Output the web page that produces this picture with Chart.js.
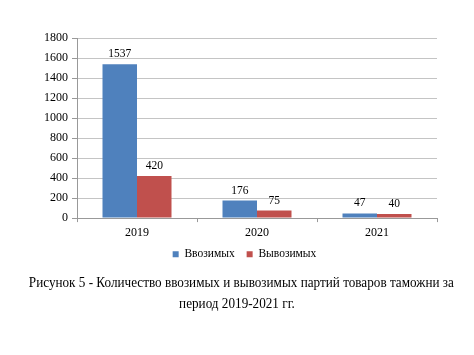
<!DOCTYPE html>
<html><head><meta charset="utf-8">
<script src="https://cdn.jsdelivr.net/npm/chart.js@4/dist/chart.umd.min.js"></script>
<style>
html,body{margin:0;padding:0;background:#fff;}
#wrap{position:absolute;left:0;top:0;width:474px;height:278px;}
#cap{position:absolute;left:0;top:272px;width:474px;text-align:center;font-family:'Liberation Serif', serif;font-size:15px;line-height:21px;color:#000;}
#cap div{white-space:nowrap;transform-origin:center;}
</style></head>
<body>
<div id="wrap"><canvas id="c" width="474" height="278"></canvas></div>
<div id="cap"><div id="l1">Рисунок 5 - Количество ввозимых и вывозимых партий товаров таможни за</div><div id="l2">период 2019-2021 гг.</div></div>
<script>
const categories = ["2019", "2020", "2021"];
const importValues = [1537, 176, 47];
const exportValues = [420, 75, 40];
const seriesNames = ["Ввозимых", "Вывозимых"];
const yTicks = [0, 200, 400, 600, 800, 1000, 1200, 1400, 1600, 1800];

const FONT = "'Liberation Serif', serif";

// squeeze caption horizontally to the reference's line width
(function () {
  const probe = document.createElement('span');
  probe.style.cssText = "font-family:'Liberation Serif', serif;font-size:15px;white-space:nowrap;position:absolute;visibility:hidden;";
  probe.textContent = document.getElementById('l1').textContent;
  document.body.appendChild(probe);
  const k = 425 / probe.getBoundingClientRect().width;
  probe.remove();
  document.getElementById('l1').style.transform = 'scaleX(' + k + ')';
  document.getElementById('l2').style.transform = 'scaleX(' + k + ')';
})();

Chart.defaults.font.family = FONT;

const valueLabels = {
  id: 'valueLabels',
  afterDatasetsDraw(chart) {
    const ctx = chart.ctx;
    ctx.save();
    ctx.font = "11.5px " + FONT;
    ctx.fillStyle = "#000";
    ctx.textAlign = "center";
    ctx.textBaseline = "middle";
    chart.data.datasets.forEach((ds, i) => {
      const meta = chart.getDatasetMeta(i);
      meta.data.forEach((bar, j) => {
        ctx.fillText(String(ds.data[j]), bar.x, bar.y - 10);
      });
    });
    ctx.restore();
  }
};

const legendShift = {
  id: 'legendShift',
  afterLayout(chart) {
    const l = chart.legend;
    if (l) { l.top -= 8; l.bottom -= 8; l.left += 26; l.right += 26; }
  }
};

new Chart(document.getElementById('c'), {
  type: 'bar',
  data: {
    labels: categories,
    datasets: [
      { label: seriesNames[0], data: importValues, backgroundColor: '#4F81BD', categoryPercentage: 0.575, barPercentage: 1 },
      { label: seriesNames[1], data: exportValues, backgroundColor: '#C0504D', categoryPercentage: 0.575, barPercentage: 1 }
    ]
  },
  options: {
    responsive: false,
    animation: false,
    events: [],
    layout: { padding: { top: 38, right: 37, left: 0, bottom: 0 } },
    plugins: {
      legend: {
        position: 'bottom',
        labels: { font: { family: FONT, size: 11.5 }, color: '#000', boxWidth: 6, boxHeight: 6, padding: 12 }
      },
      tooltip: { enabled: false },
      title: { display: false }
    },
    scales: {
      x: {
        grid: { display: true, drawOnChartArea: false, tickLength: 4, color: '#999', offset: true },
        border: { color: '#999' },
        ticks: { font: { family: FONT, size: 12 }, color: '#000', padding: 4 }
      },
      y: {
        min: 0, max: 1800,
        afterBuildTicks(s) { s.ticks = yTicks.map(v => ({ value: v })); },
        afterFit(s) { s.width = 77; },
        grid: { color: '#c4c4c4', tickColor: '#999', tickLength: 5 },
        border: { color: '#999' },
        ticks: { font: { family: FONT, size: 12 }, color: '#000', padding: 4, callback: v => String(v) }
      }
    }
  },
  plugins: [valueLabels, legendShift]
});
</script>
</body></html>
